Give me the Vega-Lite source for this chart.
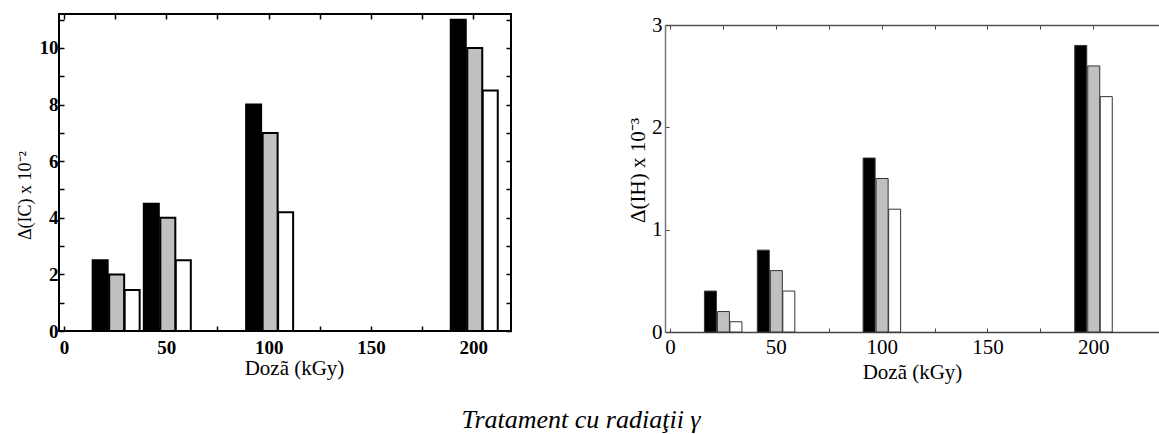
{
  "$schema": "https://vega.github.io/schema/vega-lite/v6.json",
  "padding": {"left": 15, "top": 9, "right": 0, "bottom": 0},
  "config": {
    "font": "Times New Roman, Liberation Serif, serif",
    "axis": {
      "grid": false,
      "labelFont": "Times New Roman, Liberation Serif, serif",
      "titleFont": "Times New Roman, Liberation Serif, serif",
      "labelColor": "black", "titleColor": "black", "titleFontWeight": "normal",
      "labelFlush": false, "labelOverlap": false
    }
  },
  "datasets": {
    "ic": [
      {"doza": 25, "serie": 1, "valoare": 2.5},
      {"doza": 25, "serie": 2, "valoare": 2.0},
      {"doza": 25, "serie": 3, "valoare": 1.45},
      {"doza": 50, "serie": 1, "valoare": 4.5},
      {"doza": 50, "serie": 2, "valoare": 4.0},
      {"doza": 50, "serie": 3, "valoare": 2.5},
      {"doza": 100, "serie": 1, "valoare": 8.0},
      {"doza": 100, "serie": 2, "valoare": 7.0},
      {"doza": 100, "serie": 3, "valoare": 4.2},
      {"doza": 200, "serie": 1, "valoare": 11.0},
      {"doza": 200, "serie": 2, "valoare": 10.0},
      {"doza": 200, "serie": 3, "valoare": 8.5}
    ],
    "ih": [
      {"doza": 25, "serie": 1, "valoare": 0.4},
      {"doza": 25, "serie": 2, "valoare": 0.2},
      {"doza": 25, "serie": 3, "valoare": 0.1},
      {"doza": 50, "serie": 1, "valoare": 0.8},
      {"doza": 50, "serie": 2, "valoare": 0.6},
      {"doza": 50, "serie": 3, "valoare": 0.4},
      {"doza": 100, "serie": 1, "valoare": 1.7},
      {"doza": 100, "serie": 2, "valoare": 1.5},
      {"doza": 100, "serie": 3, "valoare": 1.2},
      {"doza": 200, "serie": 1, "valoare": 2.8},
      {"doza": 200, "serie": 2, "valoare": 2.6},
      {"doza": 200, "serie": 3, "valoare": 2.3}
    ]
  },
  "title": {
    "text": "Tratament cu radiaţii γ",
    "orient": "bottom",
    "anchor": "middle",
    "font": "Times New Roman, Liberation Serif, serif",
    "fontStyle": "italic",
    "fontWeight": "normal",
    "fontSize": 26,
    "color": "black",
    "offset": 25,
    "dx": -6
  },
  "spacing": 114,
  "hconcat": [
    {
      "width": 452,
      "height": 317,
      "view": {"stroke": "black", "strokeWidth": 2},
      "data": {"name": "ic"},
      "resolve": {"axis": {"x": "independent", "y": "independent"}},
      "layer": [
        {
          "transform": [{"filter": "datum.serie == 1"}],
          "mark": {"type": "bar", "orient": "vertical", "width": 15, "xOffset": -15, "fill": "black", "stroke": "black", "strokeWidth": 2},
          "encoding": {
            "x": {
              "field": "doza", "type": "quantitative",
              "scale": {"domain": [0, 216], "nice": false, "zero": false},
              "axis": {
                "orient": "bottom", "values": [0, 25, 50, 75, 100, 125, 150, 175, 200],
                "labelExpr": "datum.value % 50 == 0 ? datum.label : ''",
                "domain": false, "tickSize": -5, "tickWidth": 1.5, "tickColor": "black",
                "labelPadding": 12, "labelFontSize": 19, "labelFontWeight": "bold",
                "title": "Dozã (kGy)", "titleFontSize": 21, "titlePadding": 0, "titleX": 235
              }
            },
            "y": {
              "field": "valoare", "type": "quantitative",
              "scale": {"domain": [0, 11.2], "nice": false},
              "axis": {
                "orient": "left", "values": [0, 1, 2, 3, 4, 5, 6, 7, 8, 9, 10, 11],
                "labelExpr": "datum.value % 2 == 0 ? datum.label : ''",
                "domain": false, "tickSize": -5, "tickWidth": 1.5, "tickColor": "black",
                "labelPadding": 6, "labelFontSize": 19, "labelFontWeight": "bold",
                "title": "Δ(IC) x 10⁻²", "titleFontSize": 18, "titleY": 181, "titlePadding": 5
              }
            }
          }
        },
        {
          "transform": [{"filter": "datum.serie == 2"}],
          "mark": {"type": "bar", "orient": "vertical", "width": 15, "xOffset": 1.5, "fill": "#c0c0c0", "stroke": "black", "strokeWidth": 2},
          "encoding": {
            "x": {
              "field": "doza", "type": "quantitative",
              "axis": {
                "orient": "top", "values": [0, 25, 50, 75, 100, 125, 150, 175, 200],
                "labels": false, "domain": false, "tickSize": -5, "tickWidth": 1.5, "tickColor": "black", "title": null
              }
            },
            "y": {
              "field": "valoare", "type": "quantitative",
              "axis": {
                "orient": "right", "values": [0, 1, 2, 3, 4, 5, 6, 7, 8, 9, 10, 11],
                "labels": false, "domain": false, "tickSize": -5, "tickWidth": 1.5, "tickColor": "black", "title": null
              }
            }
          }
        },
        {
          "transform": [{"filter": "datum.serie == 3"}],
          "mark": {"type": "bar", "orient": "vertical", "width": 15, "xOffset": 17, "fill": "white", "stroke": "black", "strokeWidth": 2},
          "encoding": {
            "x": {"field": "doza", "type": "quantitative", "axis": null},
            "y": {"field": "valoare", "type": "quantitative", "axis": null}
          }
        }
      ]
    },
    {
      "width": 494,
      "height": 318,
      "view": {"stroke": null},
      "data": {"name": "ih"},
      "resolve": {"axis": {"x": "independent", "y": "independent"}},
      "layer": [
        {
          "transform": [{"filter": "datum.serie == 1"}],
          "mark": {"type": "bar", "orient": "vertical", "width": 12, "xOffset": -12.5, "fill": "black", "stroke": "#333333", "strokeWidth": 1},
          "encoding": {
            "x": {
              "field": "doza", "type": "quantitative",
              "scale": {"domain": [0, 228.7], "nice": false, "zero": false},
              "axis": {
                "orient": "bottom", "values": [0, 25, 50, 75, 100, 125, 150, 175, 200],
                "labelExpr": "datum.value % 50 == 0 ? datum.label : ''",
                "domain": true, "domainColor": "#444444", "domainWidth": 1.5,
                "tickSize": -4, "tickWidth": 1, "tickColor": "#444444",
                "labelPadding": 8, "labelFontSize": 21,
                "title": "Dozã (kGy)", "titleFontSize": 21, "titlePadding": 4
              }
            },
            "y": {
              "field": "valoare", "type": "quantitative",
              "scale": {"domain": [0, 3], "nice": false, "range": [318, 11]},
              "axis": {
                "orient": "left", "values": [0, 0.5, 1, 1.5, 2, 2.5, 3],
                "format": "d",
                "labelExpr": "datum.value % 1 == 0 ? datum.label : ''",
                "domain": true, "domainColor": "#777777", "domainWidth": 1.5,
                "tickSize": -4, "tickWidth": 1, "tickColor": "#444444",
                "labelPadding": 7, "labelFontSize": 21,
                "title": "Δ(IH) x 10⁻³", "titleFontSize": 21, "titleY": 156, "titlePadding": 3
              }
            }
          }
        },
        {
          "transform": [{"filter": "datum.serie == 2"}],
          "mark": {"type": "bar", "orient": "vertical", "width": 12, "xOffset": 0.5, "fill": "#c0c0c0", "stroke": "#333333", "strokeWidth": 1},
          "encoding": {
            "x": {
              "field": "doza", "type": "quantitative",
              "axis": {
                "orient": "top", "offset": -11, "values": [0, 25, 50, 75, 100, 125, 150, 175, 200],
                "labels": false, "domain": true, "domainColor": "#555555", "domainWidth": 1.5,
                "tickSize": -4, "tickWidth": 1, "tickColor": "#444444", "title": null
              }
            },
            "y": {"field": "valoare", "type": "quantitative", "axis": null}
          }
        },
        {
          "transform": [{"filter": "datum.serie == 3"}],
          "mark": {"type": "bar", "orient": "vertical", "width": 12, "xOffset": 13, "fill": "white", "stroke": "#333333", "strokeWidth": 1},
          "encoding": {
            "x": {"field": "doza", "type": "quantitative", "axis": null},
            "y": {"field": "valoare", "type": "quantitative", "axis": null}
          }
        }
      ]
    }
  ]
}
